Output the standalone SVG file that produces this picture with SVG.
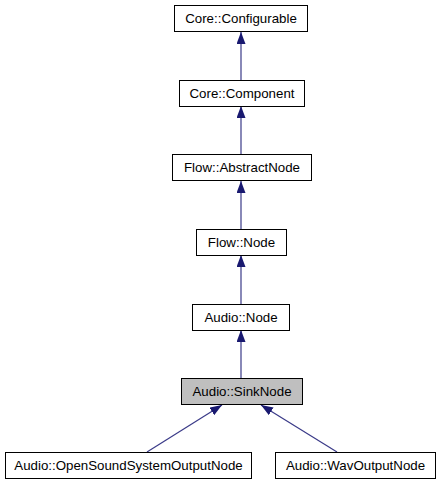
<svg xmlns="http://www.w3.org/2000/svg" width="441" height="485" viewBox="0 0 441 485">
<defs>
<marker id="ah" viewBox="0 0 12 9" refX="12" refY="4.5" markerWidth="12" markerHeight="9" markerUnits="userSpaceOnUse" orient="auto">
<path d="M0,0 L12,4.5 L0,9 Z" fill="#191970"/>
</marker>
<style>
.n rect{fill:#fff;stroke:#000;stroke-width:1}
.n.cur rect{fill:#bfbfbf}
.n text{font-family:"Liberation Sans",Arial,sans-serif;font-size:13.3px;text-anchor:middle;fill:#000}
.e line{stroke:#3a3a88;stroke-width:1.2;marker-end:url(#ah)}
</style>
</defs>
<rect width="441" height="485" fill="#fff"/>
<g id="edges" class="e">
<line x1="241" y1="80" x2="241" y2="32"/>
<line x1="241" y1="154" x2="241" y2="106"/>
<line x1="241" y1="229" x2="241" y2="181"/>
<line x1="241" y1="304" x2="241" y2="255"/>
<line x1="241" y1="378" x2="241" y2="330"/>
<line x1="147" y1="452" x2="222" y2="405"/>
<line x1="337" y1="452" x2="261" y2="405"/>
</g>
<g id="configurable" class="n"><rect x="174.5" y="5.5" width="133" height="26"/><text x="241" y="23">Core::Configurable</text></g>
<g id="component" class="n"><rect x="179.5" y="80.5" width="125" height="26"/><text x="242" y="98">Core::Component</text></g>
<g id="abstractnode" class="n"><rect x="172.5" y="154.5" width="139" height="26"/><text x="242" y="172">Flow::AbstractNode</text></g>
<g id="flownode" class="n"><rect x="196.5" y="229.5" width="90" height="26"/><text x="241.5" y="247">Flow::Node</text></g>
<g id="audionode" class="n"><rect x="192.5" y="304.5" width="97" height="26"/><text x="241" y="322">Audio::Node</text></g>
<g id="sinknode" class="n cur"><rect x="181.5" y="378.5" width="121" height="26"/><text x="242" y="396">Audio::SinkNode</text></g>
<g id="ossoutput" class="n"><rect x="5.5" y="452.5" width="246" height="26"/><text x="128.5" y="470">Audio::OpenSoundSystemOutputNode</text></g>
<g id="wavoutput" class="n"><rect x="275.5" y="452.5" width="160" height="26"/><text x="355.5" y="470">Audio::WavOutputNode</text></g>
</svg>
